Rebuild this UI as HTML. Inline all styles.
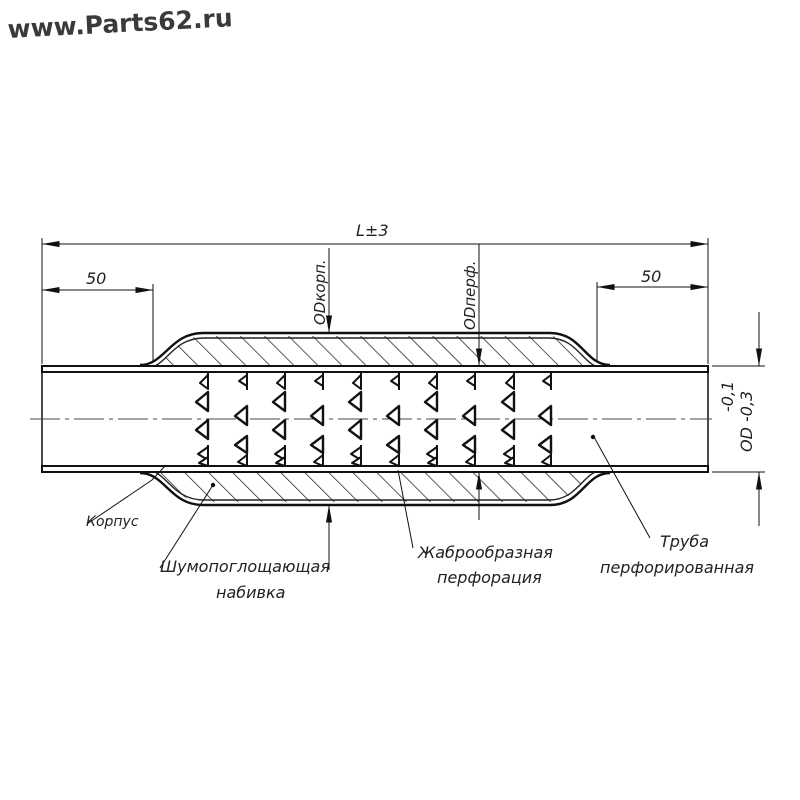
<!DOCTYPE html>
<html><head><meta charset="utf-8"><style>
html,body{margin:0;padding:0;background:#fff;}
svg{display:block;}
text{font-family:"DejaVu Sans","Liberation Sans",sans-serif;font-style:italic;fill:#222;}
</style></head><body>
<svg width="800" height="800" viewBox="0 0 800 800" xmlns="http://www.w3.org/2000/svg">
<defs>
<pattern id="h" patternUnits="userSpaceOnUse" width="17" height="17" patternTransform="rotate(-45)">
<line x1="0" y1="0" x2="0" y2="17" stroke="#222" stroke-width="1.5"/>
</pattern>
<marker id="b" viewBox="0 0 20 8" refX="20" refY="4" markerWidth="20" markerHeight="7" orient="auto-start-reverse" markerUnits="userSpaceOnUse">
<path d="M0,0.5 L20,4 L0,7.5 Z" fill="#111"/></marker>
<g id="c1" fill="#fff" stroke="#111" stroke-width="2" stroke-linejoin="round">
<path d="M0,373 L0,389"/>
<path d="M0,375 l-8,8 l8,6 z"/>
<path d="M0,392 l-12,10 l12,9 z" stroke-width="2.4"/>
<path d="M0,420 l-12,10 l12,9 z" stroke-width="2.4"/>
<path d="M0,445 L0,466"/>
<path d="M0,447 l-10,7 l10,6 z"/>
<path d="M0,457 l-9,6 l9,3 z"/>
</g>
<g id="c2" fill="#fff" stroke="#111" stroke-width="2" stroke-linejoin="round">
<path d="M0,373 L0,390"/>
<path d="M0,375 l-8,6 l8,5 z"/>
<path d="M0,406 l-12,10 l12,9 z" stroke-width="2.4"/>
<path d="M0,436 l-12,9 l12,8 z" stroke-width="2.4"/>
<path d="M0,450 L0,466"/>
<path d="M0,455 l-9,7 l9,4 z"/>
</g>
</defs>

<text x="8" y="38" style="font-family:'DejaVu Sans',sans-serif;font-style:normal;font-weight:bold;font-size:25px;fill:#3a3a3a" transform="rotate(-3 8 38)">www.Parts62.ru</text>

<path d="M150,366 C168,366 172,336 205,336 L548,336 C578,336 582,366 600,366 Z" fill="url(#h)"/>
<path d="M150,472 C168,472 172,502 205,502 L548,502 C578,502 582,472 600,472 Z" fill="url(#h)"/>
<g fill="none" stroke="#111" stroke-width="2.4">
<path d="M140,365 C165,365 170,333 203,333 L550,333 C582,333 585,365 610,365"/>
<path d="M140,473 C165,473 170,505 203,505 L550,505 C582,505 585,473 610,473"/>
</g>
<g fill="none" stroke="#222" stroke-width="1.4">
<path d="M146,368 C167,368 171,338 204,338 L549,338 C579,338 583,368 604,368"/>
<path d="M146,470 C167,470 171,500 204,500 L549,500 C579,500 583,470 604,470"/>
</g>
<rect x="42" y="366" width="666" height="6" fill="#fff" stroke="#111" stroke-width="2"/>
<rect x="42" y="466" width="666" height="6" fill="#fff" stroke="#111" stroke-width="2"/>
<line x1="42" y1="366" x2="42" y2="472" stroke="#111" stroke-width="1.5"/>
<line x1="708" y1="366" x2="708" y2="472" stroke="#111" stroke-width="1.5"/>
<line x1="30" y1="419" x2="712" y2="419" stroke="#444" stroke-width="1" stroke-dasharray="30,5,4,5"/>

<use href="#c1" x="208"/><use href="#c2" x="247"/>
<use href="#c1" x="285"/><use href="#c2" x="323"/>
<use href="#c1" x="361"/><use href="#c2" x="399"/>
<use href="#c1" x="437"/><use href="#c2" x="475"/>
<use href="#c1" x="514"/><use href="#c2" x="551"/>

<g stroke="#111" stroke-width="1" fill="none">
<line x1="42" y1="238" x2="42" y2="364"/>
<line x1="708" y1="238" x2="708" y2="364"/>
<line x1="42" y1="244" x2="708" y2="244" marker-start="url(#b)" marker-end="url(#b)"/>
<line x1="153" y1="284" x2="153" y2="362"/>
<line x1="42" y1="290" x2="153" y2="290" marker-start="url(#b)" marker-end="url(#b)"/>
<line x1="597" y1="282" x2="597" y2="362"/>
<line x1="597" y1="287" x2="708" y2="287" marker-start="url(#b)" marker-end="url(#b)"/>
<line x1="329" y1="248" x2="329" y2="333" marker-end="url(#b)"/>
<line x1="329" y1="505" x2="329" y2="570" marker-start="url(#b)"/>
<line x1="479" y1="244" x2="479" y2="366" marker-end="url(#b)"/>
<line x1="479" y1="472" x2="479" y2="520" marker-start="url(#b)"/>
<line x1="712" y1="366" x2="765" y2="366"/>
<line x1="712" y1="472" x2="765" y2="472"/>
<line x1="759" y1="312" x2="759" y2="366" marker-end="url(#b)"/>
<line x1="759" y1="472" x2="759" y2="526" marker-start="url(#b)"/>
<polyline points="87,524 152,480 165,466"/>
<line x1="160" y1="568" x2="213" y2="485"/>
<line x1="413" y1="548" x2="398" y2="470"/>
<line x1="650" y1="538" x2="594" y2="437"/>
</g>
<circle cx="213" cy="485" r="2.2" fill="#111"/>
<circle cx="593" cy="437" r="2.2" fill="#111"/>

<text x="356" y="236" font-size="16">L±3</text>
<text x="86" y="284" font-size="16">50</text>
<text x="641" y="282" font-size="16">50</text>
<text transform="translate(325,325) rotate(-90)" font-size="15">ODкорп.</text>
<text transform="translate(475,330) rotate(-90)" font-size="15">ODперф.</text>
<text transform="translate(733,412) rotate(-90)" font-size="16">-0,1</text>
<text transform="translate(752,452) rotate(-90)" font-size="16">OD -0,3</text>

<text x="86" y="526" font-size="14">Корпус</text>
<text x="160" y="572" font-size="16">Шумопоглощающая</text>
<text x="216" y="598" font-size="16">набивка</text>
<text x="418" y="558" font-size="16">Жаброобразная</text>
<text x="437" y="583" font-size="16">перфорация</text>
<text x="660" y="547" font-size="16">Труба</text>
<text x="600" y="573" font-size="16">перфорированная</text>
</svg>
</body></html>
